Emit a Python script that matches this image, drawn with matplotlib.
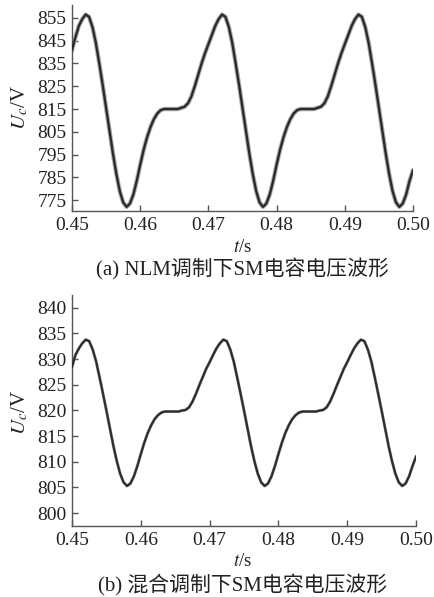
import numpy as np
import matplotlib
matplotlib.use("Agg")
import matplotlib.pyplot as plt

plt.rcParams['font.family'] = ['Liberation Serif', 'Noto Sans CJK SC']
plt.rcParams['mathtext.fontset'] = 'stix'

# time axis (s)
t = np.round(0.45 + np.arange(101) * 0.0005, 4)

# (a) NLM modulation, capacitor voltage (V)
top_v = [
    841, 846.5, 851.5, 854.5, 856.5, 855.5, 851, 844, 835, 825.5,
    815.5, 805.5, 795.5, 786.5, 779, 774, 772, 773.5, 777.5, 783.5,
    790.5, 797, 802.5, 807, 810.5, 813, 814.5, 815, 815, 815,
    815, 815, 815.5, 816, 817.5, 820.5, 825, 830, 835, 839.5,
    843.5, 847.5, 851.5, 854.5, 856.5, 855.5, 851, 844, 835, 825.5,
    815.5, 805.5, 795.5, 786.5, 779, 774, 772, 773.5, 777.5, 783.5,
    790.5, 797, 802.5, 807, 810.5, 813, 814.5, 815, 815, 815,
    815, 815, 815.5, 816, 817.5, 820.5, 825, 830, 835, 839.5,
    843.5, 847.5, 851.5, 854.5, 856.5, 855.5, 851, 844, 835, 825.5,
    815.5, 805.5, 795.5, 786.5, 779, 774, 772, 773.5, 777.5, 783.5,
    788]

# (b) hybrid modulation, capacitor voltage (V)
bot_v = [
    828.5, 830.8, 832.1, 833.1, 833.8, 833.5, 831.9, 829.6, 826.5, 823.3,
    820.0, 816.6, 813.2, 810.2, 807.7, 806.0, 805.3, 805.8, 807.2, 809.2,
    811.5, 813.7, 815.6, 817.1, 818.3, 819.1, 819.6, 819.8, 819.8, 819.8,
    819.8, 819.8, 820.0, 820.1, 820.6, 821.7, 823.2, 824.9, 826.5, 828.1,
    829.4, 830.8, 832.1, 833.1, 833.8, 833.5, 831.9, 829.6, 826.5, 823.3,
    820.0, 816.6, 813.2, 810.2, 807.7, 806.0, 805.3, 805.8, 807.2, 809.2,
    811.5, 813.7, 815.6, 817.1, 818.3, 819.1, 819.6, 819.8, 819.8, 819.8,
    819.8, 819.8, 820.0, 820.1, 820.6, 821.7, 823.2, 824.9, 826.5, 828.1,
    829.4, 830.8, 832.1, 833.1, 833.8, 833.5, 831.9, 829.6, 826.5, 823.3,
    820.0, 816.6, 813.2, 810.2, 807.7, 806.0, 805.3, 805.8, 807.2, 809.2,
    811.0]

xticks = [0.45, 0.46, 0.47, 0.48, 0.49, 0.50]
xticklabels = ['0.45', '0.46', '0.47', '0.48', '0.49', '0.50']
top_yticks = [775, 785, 795, 805, 815, 825, 835, 845, 855]
bot_yticks = [800, 805, 810, 815, 820, 825, 830, 835, 840]

captions = ['(a) NLM调制下SM电容电压波形', '(b) 混合调制下SM电容电压波形']

W, H = 434, 597
fig = plt.figure(figsize=(W / 100, H / 100), dpi=100)

def px_axes(l, r, top, bot):
    return fig.add_axes([l / W, 1 - bot / H, (r - l) / W, (bot - top) / H])

ax1 = px_axes(72, 413, 5, 211)
ax2 = px_axes(72, 416, 295, 526)

line_col = '#2b2b2b'
ax1.plot(t, top_v, color='#b0b0b0', lw=3.2, zorder=2)
ax1.plot(t, top_v, color=line_col, lw=1.7, zorder=3)
ax2.plot(t, bot_v, color='#9a9a9a', lw=2.2, zorder=2)
ax2.plot(t, bot_v, color=line_col, lw=1.5, zorder=3)

ax1.set_ylim(770.2, 860.7)
ax2.set_ylim(797.5, 842.5)

for ax, yt, lab_y, axw in [(ax1, top_yticks, 0.505, 341), (ax2, bot_yticks, 0.49, 344)]:
    ax.set_xlim(0.45, 0.50)
    ax.set_xticks(xticks)
    ax.set_xticklabels(xticklabels)
    ax.set_yticks(yt)
    ax.set_yticklabels([str(v) for v in yt])
    for s in ['top', 'right']:
        ax.spines[s].set_visible(False)
    for s in ['left', 'bottom']:
        ax.spines[s].set_color('#555555')
        ax.spines[s].set_linewidth(1.0)
    ax.tick_params(direction='in', length=4, width=1, color='#555555',
                   labelsize=14, labelcolor='#222222', pad=4)
    ax.set_ylabel('$U_c$/V', fontsize=15, color='#222222')
    ax.yaxis.set_label_coords((30 - 72) / axw, lab_y)

fig.text(243 / W, 1 - 248 / H, '$t$/s', ha='center', va='center',
         fontsize=13.5, color='#222222')
fig.text(242 / W, 1 - 269 / H, captions[0], ha='center', va='center',
         fontsize=15, color='#222222')
fig.text(243 / W, 1 - 562 / H, '$t$/s', ha='center', va='center',
         fontsize=13.5, color='#222222')
fig.text(243 / W, 1 - 585 / H, captions[1], ha='center', va='center',
         fontsize=15, color='#222222')

fig.savefig('out.png', dpi=100)
